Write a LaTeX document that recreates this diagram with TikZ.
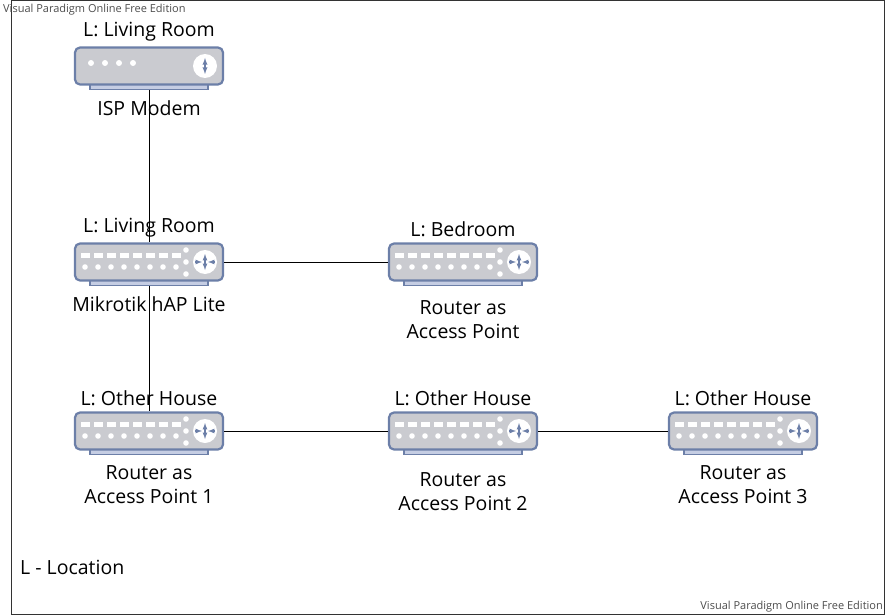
\documentclass[tikz,border=0pt]{standalone}
\usepackage{fontspec}
\setmainfont{Open Sans}
\usetikzlibrary{positioning}
\definecolor{devline}{HTML}{6C7FA8}
\definecolor{devfill}{HTML}{CACBD0}
\definecolor{devbase}{HTML}{C5CDE3}
\tikzset{
  body/.style={draw=devline,line width=2.2pt,fill=devfill,rounded corners=5pt,
    minimum width=148pt,minimum height=37pt,inner sep=0pt},
  base/.style={draw=devline,line width=1.2pt,fill=devbase,minimum width=118pt,
    minimum height=5pt,inner sep=0pt},
  lbl/.style={font=\fontsize{19.5}{24}\selectfont,align=center,inner sep=0pt},
  small/.style={font=\fontsize{11}{13}\selectfont,text=black!70,inner sep=1pt},
  link/.style={draw=black,line width=0.9pt}
}
% device: name, x, y, ports (0 = modem)
\newcommand\device[4]{%
  \node[base] (#1b) at (#2,#3+21) {};
  \node[body] (#1) at (#2,#3) {};
  \fill[white] (#2+56,#3) circle (12pt);
  \ifnum#4=0
    \foreach \i in {0,...,3} \fill[white] (#2-58+\i*14,#3-3) circle (3pt);
    \draw[devline,line width=1.3pt,<->,>=latex] (#2+56,#3-8) -- (#2+56,#3+8);
  \else
    \foreach \i in {0,...,7} \fill[white] (#2-68+\i*13,#3-9) rectangle ++(9,5);
    \foreach \i in {0,...,7} \fill[white] (#2-64+\i*13,#3+5) circle (2.8pt);
    \foreach \j in {-12,0,12} \fill[white] (#2+37,#3+\j) circle (2.8pt);
    \draw[devline,line width=1.2pt,->,>=latex] (#2+46,#3) -- (#2+53,#3);
    \draw[devline,line width=1.2pt,->,>=latex] (#2+66,#3) -- (#2+59,#3);
    \draw[devline,line width=1.2pt,<->,>=latex] (#2+56,#3-8) -- (#2+56,#3+8);
  \fi
}
\begin{document}
\begin{tikzpicture}[x=1pt,y=-1pt]
\useasboundingbox (0,0) rectangle (885,615);
\draw[black!80,line width=0.8pt] (11,0) rectangle (884,614);
\node[small,anchor=north west] at (2,3) {Visual Paradigm Online Free Edition};
\node[small,anchor=south east] at (884,613) {Visual Paradigm Online Free Edition};

\device{modem}{149}{66}{0}
\device{hap}{149}{262}{1}
\device{bed}{463}{262}{1}
\device{apa}{149}{431}{1}
\device{apb}{463}{431}{1}
\device{apc}{743}{431}{1}

\node[lbl,above=5pt of modem] {L: Living Room};
\node[lbl,below=10pt of modemb] {ISP Modem};
\node[lbl,above=5pt of hap] {L: Living Room};
\node[lbl,below=10pt of hapb] {Mikrotik hAP Lite};
\node[lbl,above=5pt of bed] {L: Bedroom};
\node[lbl,below=14pt of bedb] {Router as\\Access Point};
\node[lbl,above=5pt of apa] {L: Other House};
\node[lbl,below=10pt of apab] {Router as\\Access Point 1};
\node[lbl,above=5pt of apb] {L: Other House};
\node[lbl,below=17pt of apbb] {Router as\\Access Point 2};
\node[lbl,above=5pt of apc] {L: Other House};
\node[lbl,below=10pt of apcb] {Router as\\Access Point 3};
\node[lbl,anchor=west] (legend) at (20,567) {L - Location};

\draw[link] (modemb.south) -- (hap.north);
\draw[link] (hapb.south) -- (apa.north);
\draw[link] (hap.east) -- (bed.west);
\draw[link] (apa.east) -- (apb.west);
\draw[link] (apb.east) -- (apc.west);
\end{tikzpicture}
\end{document}
